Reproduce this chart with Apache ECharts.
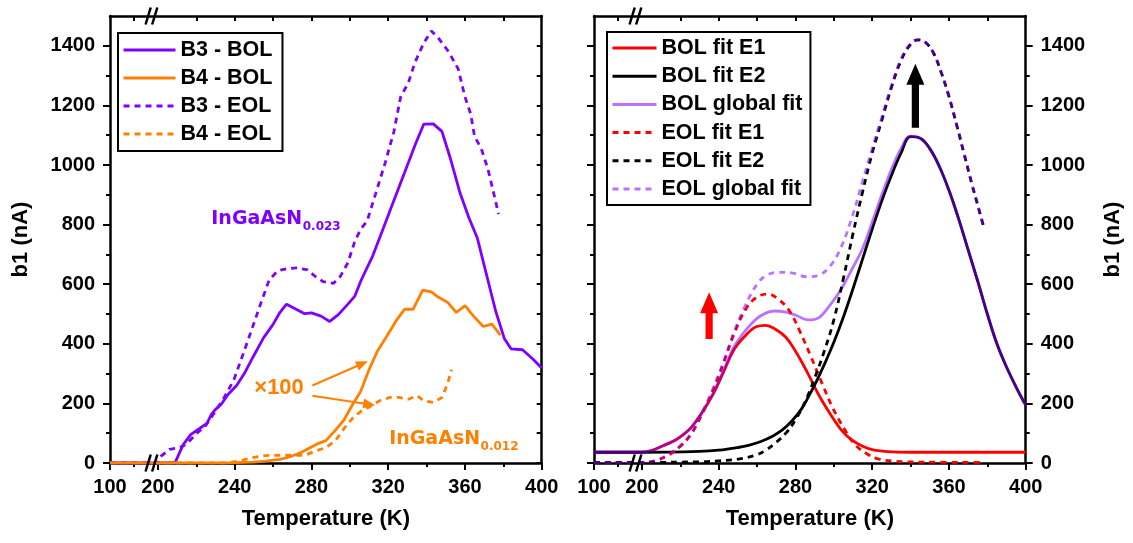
<!DOCTYPE html>
<html><head><meta charset="utf-8">
<script src="https://cdn.jsdelivr.net/npm/echarts@6/dist/echarts.min.js"></script>
<style>html,body{margin:0;padding:0;background:#fff}#c{width:1133px;height:543px}</style>
</head><body><div id="c"></div>
<script>
// ---------- tick labels ----------
const xTickValues = [100, 200, 240, 280, 320, 360, 400];
const xTickLabels = ['100', '200', '240', '280', '320', '360', '400'];
const xMinorValues = [150, 220, 260, 300, 340, 380];
const yTickValues = [0, 200, 400, 600, 800, 1000, 1200, 1400];
const yMinorValues = [100, 300, 500, 700, 900, 1100, 1300];

// ---------- left panel data (T in K, b1 in nA) ----------
const b3BolT = [100, 200, 209, 213, 217, 221.5, 225.5, 228, 230, 233, 236.5, 241, 245, 249.5, 255, 260, 263.5, 267, 272, 276.5, 280, 285, 289.5, 294, 299, 302.5, 306, 312, 317.5, 323, 328.5, 334, 338.5, 343.5, 348, 352.5, 357.5, 362, 366.5, 371, 376, 380.5, 384, 390, 395.5, 400];
const b3BolV = [0, 0, 2, 60, 95, 115, 133, 165, 180, 197, 230, 260, 300, 355, 420, 465, 505, 533, 516, 501, 504, 493, 475, 498, 533, 559, 615, 696, 789, 882, 974, 1067, 1137, 1138, 1113, 1020, 905, 824, 754, 638, 510, 418, 383, 380, 348, 319];

const b4BolT = [100, 200, 240, 250, 256, 263.5, 269, 274.5, 278.5, 283, 287.5, 292.5, 297, 301.5, 305.5, 310, 314.5, 319, 324, 328.5, 333, 338, 342.5, 346, 351, 355.5, 360, 364.5, 369.5, 374, 378.5];
const b4BolV = [0, 0, 1, 3, 6, 12, 21, 35, 49, 64, 75, 110, 145, 197, 238, 313, 377, 423, 476, 516, 516, 580, 574, 557, 539, 505, 528, 493, 458, 466, 429];

const b3EolT = [100, 200, 201.5, 206, 211.5, 215, 220, 224.5, 230, 234.5, 239.5, 244, 248.5, 253.5, 258, 262.5, 267, 272.5, 278, 282, 286, 291.5, 295, 299, 302.5, 305.5, 309, 313.5, 318.5, 323, 326.5, 330.5, 334, 338.5, 342.5, 346, 351.5, 356.5, 360, 363, 365, 368.5, 372, 375, 377.5];
const b3EolV = [0, 0, 22, 46, 52, 64, 99, 122, 174, 220, 278, 359, 441, 534, 615, 645, 652, 655, 648, 626, 609, 603, 626, 672, 742, 783, 812, 905, 1009, 1113, 1229, 1276, 1345, 1409, 1450, 1427, 1380, 1322, 1229, 1171, 1096, 1055, 986, 905, 835];

const b4EolT = [100, 200, 235, 241, 248.5, 256, 263.5, 271, 276.5, 282, 287.5, 292.5, 297, 301.5, 306, 311, 315.5, 321, 325.5, 330.5, 335, 338.5, 343.5, 348, 351, 353];
const b4EolV = [0, 0, 0, 5, 17, 25, 26, 26, 26, 40, 52, 75, 116, 151, 174, 191, 209, 220, 220, 214, 226, 209, 203, 220, 267, 313];

// ---------- right panel data (fits) ----------
const bolE1T = [100, 200, 205, 211, 216, 220, 225.5, 231, 237, 242.5, 248, 254, 259.5, 264.5, 269, 275, 280.5, 286.5, 292, 298, 303.5, 309, 315, 320.5, 328, 340, 370, 400];
const bolE1V = [36, 36, 42, 58, 72, 88, 118, 166, 230, 305, 381, 428, 457, 462, 451, 422, 370, 300, 230, 166, 114, 79, 56, 44, 38, 36, 36, 36];

const bolE2T = [100, 200, 230, 240, 250, 256, 262, 268, 273, 278, 283, 287, 291, 295, 300, 305, 310, 315, 320, 325, 330, 335, 340, 345, 350, 355, 360, 365, 370, 375, 380, 385, 390, 395, 400];
const bolE2V = [36, 36, 39, 43, 52, 60, 72, 90, 110, 140, 180, 225, 275, 330, 405, 490, 585, 685, 785, 880, 965, 1040, 1095, 1090, 1055, 995, 915, 820, 715, 610, 500, 400, 322, 255, 194];

const bolGlobT = [100, 200, 205, 211, 216, 220, 225.5, 231, 237, 242.5, 248, 254, 259.5, 264.5, 269, 275, 280.5, 286.5, 292, 298, 303.5, 309, 315, 320, 325, 330, 335, 340, 345, 350, 355, 360, 365, 370, 375, 380, 385, 390, 395, 400];
const bolGlobV = [36, 36, 42, 58, 72, 88, 118, 166, 232, 310, 390, 445, 483, 503, 510, 506, 495, 480, 487, 530, 580, 645, 720, 808, 900, 985, 1055, 1097, 1090, 1055, 995, 915, 820, 715, 610, 500, 400, 322, 255, 194];

const eolE1T = [100, 200, 207, 214, 220, 225.5, 231, 237, 242.5, 248, 254, 259.5, 265.5, 271, 277, 282.5, 288, 294, 299.5, 305.5, 311, 317, 322.5, 332, 347, 378];
const eolE1V = [2, 2, 8, 27, 56, 96, 160, 242, 335, 433, 515, 555, 567, 550, 509, 439, 358, 265, 184, 114, 62, 32, 15, 6, 3, 2];

const eolE2T = [100, 200, 230, 240, 250, 260, 265, 270, 275, 280, 285, 290, 295, 300, 305, 310, 315, 320, 325, 330, 335, 340, 344, 348, 352, 356, 360, 364, 368, 372, 375, 378];
const eolE2V = [2, 2, 4, 7, 13, 28, 45, 70, 100, 145, 205, 285, 375, 480, 620, 770, 910, 1040, 1150, 1260, 1350, 1405, 1420, 1410, 1375, 1310, 1230, 1135, 1035, 935, 865, 795];

const eolGlobT = [100, 200, 207, 214, 220, 225.5, 231, 237, 242.5, 248, 254, 260, 265, 271, 278, 286, 292, 298, 303.5, 309, 315, 320, 325, 330, 335, 340, 344, 348, 352, 356, 360, 364, 368, 372, 375, 378];
const eolGlobV = [2, 2, 8, 30, 58, 98, 165, 250, 340, 440, 530, 600, 630, 640, 638, 625, 630, 660, 720, 815, 945, 1055, 1160, 1265, 1355, 1408, 1420, 1410, 1375, 1310, 1230, 1135, 1035, 935, 865, 795];

// ---------- broken x axis: 100..200 is compressed ----------
const BREAK_T = 200, BREAK_SCALE = 0.25;
function toD(T) { return T >= BREAK_T ? T : BREAK_T - (BREAK_T - T) * BREAK_SCALE; }
function pairs(T, V) { return T.map((t, i) => [toD(t), V[i]]); }
const X_MIN = toD(100), X_MAX = 400, Y_MIN = 0, Y_MAX = 1500;
const BREAK_MARK_D = 196.6;

const AX = 'Liberation Sans, Arial, Helvetica, sans-serif';
const PURPLE = '#8000FF', ORANGE = '#FF8000', RED = '#FF0000', BLACK = '#000000';
const LW = 2.8;

function labelFor(v) {
  let best = 0, bd = 1e9;
  xTickValues.forEach((t, i) => { const d = Math.abs(toD(t) - v); if (d < bd) { bd = d; best = i; } });
  return xTickLabels[best];
}

const tickStyle = { color: '#000', width: 2 };
function xMain(g) {
  return { type: 'value', gridIndex: g, position: 'bottom', min: X_MIN, max: X_MAX,
    name: 'Temperature (K)', nameLocation: 'middle', nameGap: 45,
    nameTextStyle: { fontFamily: AX, fontSize: 22, fontWeight: 'bold', color: '#000' },
    axisLine: { show: true, onZero: false, lineStyle: { color: '#000', width: 2.5 } },
    axisTick: { show: true, inside: false, length: 7, lineStyle: tickStyle, customValues: xTickValues.map(toD) },
    axisLabel: { show: true, margin: 14, fontFamily: AX, fontSize: 20, fontWeight: 'bold', color: '#000',
      customValues: xTickValues.map(toD), formatter: v => labelFor(v) },
    splitLine: { show: false } };
}
function xMinor(g) {
  return { type: 'value', gridIndex: g, position: 'bottom', min: X_MIN, max: X_MAX,
    axisLine: { show: false, onZero: false },
    axisTick: { show: true, inside: false, length: 4, lineStyle: tickStyle, customValues: xMinorValues.map(toD) },
    axisLabel: { show: false }, splitLine: { show: false } };
}
function xTop(g) {
  const vals = xMinorValues.concat(xTickValues.slice(2, 6)).map(toD);
  return { type: 'value', gridIndex: g, position: 'top', min: X_MIN, max: X_MAX,
    axisLine: { show: true, onZero: false, lineStyle: { color: '#000', width: 2.5 } },
    axisTick: { show: true, inside: true, length: 5, lineStyle: tickStyle, customValues: vals },
    axisLabel: { show: false }, splitLine: { show: false } };
}
function yAxisDef(g, pos, opts) {
  const o = { type: 'value', gridIndex: g, position: pos, min: Y_MIN, max: Y_MAX,
    axisLine: { show: !!opts.line, onZero: false, lineStyle: { color: '#000', width: 2.5 } },
    axisTick: { show: true, inside: !!opts.inside, length: opts.len, lineStyle: tickStyle, customValues: opts.ticks },
    axisLabel: { show: !!opts.labels, margin: 15, fontFamily: AX, fontSize: 20, fontWeight: 'bold', color: '#000',
      customValues: opts.ticks, formatter: v => String(v) },
    splitLine: { show: false } };
  if (opts.name) {
    Object.assign(o, { name: 'b1 (nA)', nameLocation: 'middle', nameGap: opts.nameGap, nameRotate: 90,
      nameTextStyle: { fontFamily: AX, fontSize: 22, fontWeight: 'bold', color: '#000' } });
  }
  return o;
}
const allY = [];
for (let v = 0; v <= 1400; v += 100) allY.push(v);

function line(name, T, V, color, dashed, xi, yi, extra) {
  return Object.assign({ type: 'line', name, xAxisIndex: xi, yAxisIndex: yi, data: pairs(T, V),
    symbol: 'none', showSymbol: false, silent: true, animation: false,
    lineStyle: { color, width: LW, type: dashed ? [6, 5] : 'solid' }, itemStyle: { color } }, extra || {});
}

const legendText = { fontFamily: AX, fontSize: 21.5, fontWeight: 'bold', color: '#000', lineHeight: 22 };
const legendCommon = { orient: 'vertical', itemHeight: 14, borderColor: '#000', borderWidth: 2,
  textStyle: legendText, selectedMode: false, itemStyle: { opacity: 0 }, lineStyle: { width: 3 } };

const option = {
  animation: false,
  backgroundColor: '#fff',
  grid: [
    { left: 110, right: 591.3, top: 16, bottom: 80 },
    { left: 594, right: 107.3, top: 16, bottom: 80 }
  ],
  xAxis: [xMain(0), xMinor(0), xTop(0), xMain(1), xMinor(1), xTop(1)],
  yAxis: [
    yAxisDef(0, 'left', { line: true, labels: true, len: 7, ticks: yTickValues, name: true, nameGap: 78 }),
    yAxisDef(0, 'left', { line: false, len: 4, ticks: yMinorValues }),
    yAxisDef(0, 'right', { line: true, inside: true, len: 5, ticks: allY }),
    yAxisDef(1, 'left', { line: true, len: 7, ticks: yTickValues }),
    yAxisDef(1, 'left', { line: false, len: 4, ticks: yMinorValues }),
    yAxisDef(1, 'right', { line: true, labels: true, len: 7, ticks: yTickValues, name: true, nameGap: 76 }),
    yAxisDef(1, 'right', { line: false, len: 4, ticks: yMinorValues })
  ],
  legend: [
    Object.assign({ data: ['B3 - BOL', 'B4 - BOL', 'B3 - EOL', 'B4 - EOL'], left: 118, top: 33,
      itemWidth: 52, itemGap: 6, padding: [6, 10, 6, 4] }, legendCommon),
    Object.assign({ data: ['BOL fit E1', 'BOL fit E2', 'BOL global fit', 'EOL fit E1', 'EOL fit E2', 'EOL global fit'],
      left: 607, top: 32, itemWidth: 44, itemGap: 6.2, padding: [5, 8, 5, 4] }, legendCommon)
  ],
  series: [
    line('B3 - BOL', b3BolT, b3BolV, PURPLE, false, 0, 0),
    line('B4 - BOL', b4BolT, b4BolV, ORANGE, false, 0, 0),
    line('B3 - EOL', b3EolT, b3EolV, PURPLE, true, 0, 0),
    line('B4 - EOL', b4EolT, b4EolV, ORANGE, true, 0, 0),
    line('BOL fit E1', bolE1T, bolE1V, RED, false, 3, 5, { smooth: 0.4 }),
    line('BOL fit E2', bolE2T, bolE2V, BLACK, false, 3, 5, { smooth: 0.4 }),
    line('BOL global fit', bolGlobT, bolGlobV, PURPLE, false, 3, 5, { smooth: 0.4, lineStyle: { color: PURPLE, width: LW, opacity: 0.55 } }),
    line('EOL fit E1', eolE1T, eolE1V, RED, true, 3, 5, { smooth: 0.4 }),
    line('EOL fit E2', eolE2T, eolE2V, BLACK, true, 3, 5, { smooth: 0.4 }),
    line('EOL global fit', eolGlobT, eolGlobV, PURPLE, true, 3, 5, { smooth: 0.4, lineStyle: { color: PURPLE, width: LW, type: [6, 5], opacity: 0.55 } })
  ]
};

const chart = echarts.init(document.getElementById('c'), null, { renderer: 'canvas' });
chart.setOption(option);

// ---------- annotations placed through the axes ----------
const P0 = (d, v) => chart.convertToPixel({ xAxisIndex: 0, yAxisIndex: 0 }, [d, v]);
const P1 = (d, v) => chart.convertToPixel({ xAxisIndex: 3, yAxisIndex: 5 }, [d, v]);

const g = [];
function breakMarks(P) {
  [Y_MIN, Y_MAX].forEach(v => {
    const [cx, cy] = P(BREAK_MARK_D, v);
    [-3.3, 3.3].forEach(off => {
      g.push({ type: 'line', silent: true, z: 100,
        shape: { x1: cx + off - 2.6, y1: cy + 8.5, x2: cx + off + 2.6, y2: cy - 8.5 },
        style: { stroke: '#000', lineWidth: 2.5 } });
    });
  });
}
breakMarks(P0); breakMarks(P1);

function blockArrow(P, T, v0, v1, color) {
  const [x, yb] = P(toD(T), v0); const [, yt] = P(toD(T), v1);
  const sw = 3.6, hw = 9, hl = 21;
  g.push({ type: 'polygon', silent: true, z: 100,
    shape: { points: [[x - sw, yb], [x - sw, yt + hl], [x - hw, yt + hl], [x, yt], [x + hw, yt + hl], [x + sw, yt + hl], [x + sw, yb]] },
    style: { fill: color } });
}
blockArrow(P1, 235, 416, 573, RED);
blockArrow(P1, 342.5, 1125, 1340, BLACK);

function thinArrow(P, t0, v0, t1, v1, color) {
  const [x0, y0] = P(toD(t0), v0), [x1, y1] = P(toD(t1), v1);
  const dx = x1 - x0, dy = y1 - y0, L = Math.hypot(dx, dy), ux = dx / L, uy = dy / L;
  const hl = 12, hw = 5;
  const bx = x1 - ux * hl, by = y1 - uy * hl;
  g.push({ type: 'line', silent: true, z: 100, shape: { x1: x0, y1: y0, x2: bx + ux * 2, y2: by + uy * 2 }, style: { stroke: color, lineWidth: 2 } });
  g.push({ type: 'polygon', silent: true, z: 100,
    shape: { points: [[x1, y1], [bx - uy * hw, by + ux * hw], [bx + uy * hw, by - ux * hw]] }, style: { fill: color } });
}
thinArrow(P0, 280.5, 260, 309.4, 341.6, ORANGE);
thinArrow(P0, 280.5, 225.7, 313.2, 194.2, ORANGE);

{
  const [x, y] = P0(toD(250.2), 252);
  g.push({ type: 'text', silent: true, z: 100, style: { x, y, text: '×100', fill: ORANGE,
    font: 'bold 22px ' + AX, align: 'left', verticalAlign: 'middle' } });
}

const ctx = document.createElement('canvas').getContext('2d');
function formula(P, T, V, main, sub, color) {
  const [x, yBase] = P(toD(T), V);
  const mainFont = 'bold 19px "DejaVu Sans"', subFont = 'bold 12px "DejaVu Sans"';
  ctx.font = mainFont; const w = ctx.measureText(main).width;
  g.push({ type: 'text', silent: true, z: 100, style: { x, y: yBase - 6.8, text: main, fill: color, font: mainFont, align: 'left', verticalAlign: 'middle' } });
  g.push({ type: 'text', silent: true, z: 100, style: { x: x + w + 0.5, y: yBase + 1.5, text: sub, fill: color, font: subFont, align: 'left', verticalAlign: 'middle' } });
}
formula(P0, 227.8, 796, 'InGaAsN', '0.023', PURPLE);
formula(P0, 320.5, 58, 'InGaAsN', '0.012', ORANGE);

chart.setOption({ graphic: g });
</script></body></html>
